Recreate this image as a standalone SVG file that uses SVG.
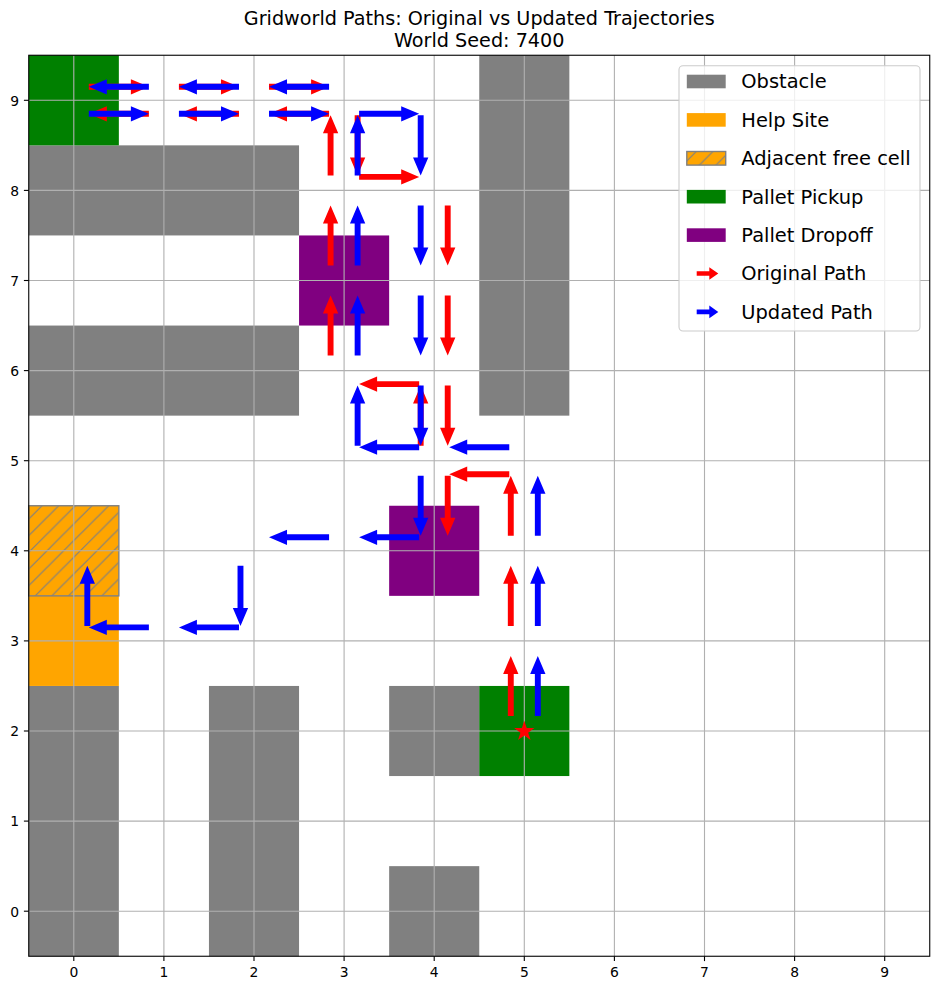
<svg xmlns="http://www.w3.org/2000/svg" xmlns:xlink="http://www.w3.org/1999/xlink" width="939" height="990" viewBox="0 0 939 990">
<style>
text{font-family:"DejaVu Sans","Liberation Sans",sans-serif;fill:#000}
.title{font-size:19.2px;text-anchor:middle}
.tick{font-size:13.9px}
.xt{text-anchor:middle}
.yt{text-anchor:end}
.leg{font-size:19.44px}
.obs{fill:#808080}
.pick{fill:#008000}
.drop{fill:#800080}
.help{fill:#ffa500}
.grid line{stroke:#b0b0b0;stroke-width:1.1}
.tk line{stroke:#000;stroke-width:1.1}
.r{fill:#ff0000}
.b{fill:#0000ff}
</style>
<defs>
<path id="arr" d="M0,-2.95 L42.07,-2.95 L42.07,-7.65 L60.07,0 L42.07,7.65 L42.07,2.95 L0,2.95 Z"/>
<path id="larr" d="M0,-2.3 L12.6,-2.3 L12.6,-6.3 L21.6,0 L12.6,6.3 L12.6,2.3 L0,2.3 Z"/>
<pattern id="hatch" patternUnits="userSpaceOnUse" x="14.4" y="0" width="16.667" height="16.667">
<rect width="16.667" height="16.667" fill="#ffa500"/>
<path d="M0,16.667 L16.667,0 M-4,4 L4,-4 M12.667,20.667 L20.667,12.667" stroke="#808080" stroke-width="1.2"/>
</pattern>
</defs>
<rect width="939" height="990" fill="#fff"/>
<g id="title">
<text class="title" x="479.25" y="25">Gridworld Paths: Original vs Updated Trajectories</text>
<text class="title" x="479.25" y="47">World Seed: 7400</text>
</g>
<g id="cells">
<rect class="obs" x="28.75" y="145.35" width="270.3" height="90.1"/>
<rect class="obs" x="28.75" y="325.55" width="270.3" height="90.1"/>
<rect class="obs" x="479.25" y="55.25" width="90.1" height="360.4"/>
<rect class="obs" x="28.75" y="685.95" width="90.1" height="270.3"/>
<rect class="obs" x="208.95" y="685.95" width="90.1" height="270.3"/>
<rect class="obs" x="389.15" y="685.95" width="90.1" height="90.1"/>
<rect class="obs" x="389.15" y="866.15" width="90.1" height="90.1"/>
<rect class="pick" x="28.75" y="55.25" width="90.1" height="90.1"/>
<rect class="pick" x="479.25" y="685.95" width="90.1" height="90.1"/>
<rect class="drop" x="299.05" y="235.45" width="90.1" height="90.1"/>
<rect class="drop" x="389.15" y="505.75" width="90.1" height="90.1"/>
<rect class="help" x="28.75" y="595.85" width="90.1" height="90.1"/>
<rect x="28.75" y="505.75" width="90.1" height="90.1" fill="url(#hatch)" stroke="#808080" stroke-width="1.4"/>
</g>
<g id="grid" class="grid">
<line x1="73.8" y1="55.25" x2="73.8" y2="956.25"/>
<line x1="163.9" y1="55.25" x2="163.9" y2="956.25"/>
<line x1="254" y1="55.25" x2="254" y2="956.25"/>
<line x1="344.1" y1="55.25" x2="344.1" y2="956.25"/>
<line x1="434.2" y1="55.25" x2="434.2" y2="956.25"/>
<line x1="524.3" y1="55.25" x2="524.3" y2="956.25"/>
<line x1="614.4" y1="55.25" x2="614.4" y2="956.25"/>
<line x1="704.5" y1="55.25" x2="704.5" y2="956.25"/>
<line x1="794.6" y1="55.25" x2="794.6" y2="956.25"/>
<line x1="884.7" y1="55.25" x2="884.7" y2="956.25"/>
<line x1="28.75" y1="911.2" x2="929.75" y2="911.2"/>
<line x1="28.75" y1="821.1" x2="929.75" y2="821.1"/>
<line x1="28.75" y1="731" x2="929.75" y2="731"/>
<line x1="28.75" y1="640.9" x2="929.75" y2="640.9"/>
<line x1="28.75" y1="550.8" x2="929.75" y2="550.8"/>
<line x1="28.75" y1="460.7" x2="929.75" y2="460.7"/>
<line x1="28.75" y1="370.6" x2="929.75" y2="370.6"/>
<line x1="28.75" y1="280.5" x2="929.75" y2="280.5"/>
<line x1="28.75" y1="190.4" x2="929.75" y2="190.4"/>
<line x1="28.75" y1="100.3" x2="929.75" y2="100.3"/>
</g>
<g id="connectors">
<g id="original-path" class="r">
<use xlink:href="#arr" transform="translate(510.785,715.983) rotate(-90)"/>
<use xlink:href="#arr" transform="translate(510.785,625.883) rotate(-90)"/>
<use xlink:href="#arr" transform="translate(510.785,535.783) rotate(-90)"/>
<use xlink:href="#arr" transform="translate(509.283,474.215) rotate(180)"/>
<use xlink:href="#arr" transform="translate(420.685,445.683) rotate(-90)"/>
<use xlink:href="#arr" transform="translate(419.183,384.115) rotate(180)"/>
<use xlink:href="#arr" transform="translate(330.585,355.583) rotate(-90)"/>
<use xlink:href="#arr" transform="translate(330.585,265.483) rotate(-90)"/>
<use xlink:href="#arr" transform="translate(330.585,175.383) rotate(-90)"/>
<use xlink:href="#arr" transform="translate(329.083,113.815) rotate(180)"/>
<use xlink:href="#arr" transform="translate(238.983,113.815) rotate(180)"/>
<use xlink:href="#arr" transform="translate(148.883,113.815) rotate(180)"/>
<use xlink:href="#arr" transform="translate(88.817,86.785)"/>
<use xlink:href="#arr" transform="translate(178.917,86.785)"/>
<use xlink:href="#arr" transform="translate(269.017,86.785)"/>
<use xlink:href="#arr" transform="translate(357.615,115.317) rotate(90)"/>
<use xlink:href="#arr" transform="translate(359.117,176.885)"/>
<use xlink:href="#arr" transform="translate(447.715,205.417) rotate(90)"/>
<use xlink:href="#arr" transform="translate(447.715,295.517) rotate(90)"/>
<use xlink:href="#arr" transform="translate(447.715,385.617) rotate(90)"/>
<use xlink:href="#arr" transform="translate(447.715,475.717) rotate(90)"/>
</g>
<g id="updated-path" class="b">
<use xlink:href="#arr" transform="translate(537.815,715.983) rotate(-90)"/>
<use xlink:href="#arr" transform="translate(537.815,625.883) rotate(-90)"/>
<use xlink:href="#arr" transform="translate(537.815,535.783) rotate(-90)"/>
<use xlink:href="#arr" transform="translate(509.283,447.185) rotate(180)"/>
<use xlink:href="#arr" transform="translate(419.183,447.185) rotate(180)"/>
<use xlink:href="#arr" transform="translate(357.615,445.683) rotate(-90)"/>
<use xlink:href="#arr" transform="translate(357.615,355.583) rotate(-90)"/>
<use xlink:href="#arr" transform="translate(357.615,265.483) rotate(-90)"/>
<use xlink:href="#arr" transform="translate(357.615,175.383) rotate(-90)"/>
<use xlink:href="#arr" transform="translate(329.083,86.785) rotate(180)"/>
<use xlink:href="#arr" transform="translate(238.983,86.785) rotate(180)"/>
<use xlink:href="#arr" transform="translate(148.883,86.785) rotate(180)"/>
<use xlink:href="#arr" transform="translate(88.817,113.815)"/>
<use xlink:href="#arr" transform="translate(178.917,113.815)"/>
<use xlink:href="#arr" transform="translate(269.017,113.815)"/>
<use xlink:href="#arr" transform="translate(359.117,113.815)"/>
<use xlink:href="#arr" transform="translate(420.685,115.317) rotate(90)"/>
<use xlink:href="#arr" transform="translate(420.685,205.417) rotate(90)"/>
<use xlink:href="#arr" transform="translate(420.685,295.517) rotate(90)"/>
<use xlink:href="#arr" transform="translate(420.685,385.617) rotate(90)"/>
<use xlink:href="#arr" transform="translate(420.685,475.717) rotate(90)"/>
<use xlink:href="#arr" transform="translate(419.183,537.285) rotate(180)"/>
<use xlink:href="#arr" transform="translate(329.083,537.285) rotate(180)"/>
<use xlink:href="#arr" transform="translate(240.485,565.817) rotate(90)"/>
<use xlink:href="#arr" transform="translate(238.983,627.385) rotate(180)"/>
<use xlink:href="#arr" transform="translate(148.883,627.385) rotate(180)"/>
<use xlink:href="#arr" transform="translate(87.315,625.883) rotate(-90)"/>
</g>
</g>
<g id="start">
<path class="r" transform="translate(524.3,731.4)" d="M0,-10.67 L2.396,-3.298 L10.148,-3.297 L3.877,1.26 L6.272,8.632 L0,4.076 L-6.272,8.632 L-3.877,1.26 L-10.148,-3.297 L-2.396,-3.298 Z"/>
</g>
<g id="axes">
<rect x="28.75" y="55.25" width="901" height="901" fill="none" stroke="#000" stroke-width="1.1"/>
<g class="tk">
<line x1="73.8" y1="956.25" x2="73.8" y2="961.1"/>
<line x1="163.9" y1="956.25" x2="163.9" y2="961.1"/>
<line x1="254" y1="956.25" x2="254" y2="961.1"/>
<line x1="344.1" y1="956.25" x2="344.1" y2="961.1"/>
<line x1="434.2" y1="956.25" x2="434.2" y2="961.1"/>
<line x1="524.3" y1="956.25" x2="524.3" y2="961.1"/>
<line x1="614.4" y1="956.25" x2="614.4" y2="961.1"/>
<line x1="704.5" y1="956.25" x2="704.5" y2="961.1"/>
<line x1="794.6" y1="956.25" x2="794.6" y2="961.1"/>
<line x1="884.7" y1="956.25" x2="884.7" y2="961.1"/>
<line x1="23.9" y1="911.2" x2="28.75" y2="911.2"/>
<line x1="23.9" y1="821.1" x2="28.75" y2="821.1"/>
<line x1="23.9" y1="731" x2="28.75" y2="731"/>
<line x1="23.9" y1="640.9" x2="28.75" y2="640.9"/>
<line x1="23.9" y1="550.8" x2="28.75" y2="550.8"/>
<line x1="23.9" y1="460.7" x2="28.75" y2="460.7"/>
<line x1="23.9" y1="370.6" x2="28.75" y2="370.6"/>
<line x1="23.9" y1="280.5" x2="28.75" y2="280.5"/>
<line x1="23.9" y1="190.4" x2="28.75" y2="190.4"/>
<line x1="23.9" y1="100.3" x2="28.75" y2="100.3"/>
</g>
<g class="tick xt">
<text x="73.8" y="977">0</text>
<text x="163.9" y="977">1</text>
<text x="254" y="977">2</text>
<text x="344.1" y="977">3</text>
<text x="434.2" y="977">4</text>
<text x="524.3" y="977">5</text>
<text x="614.4" y="977">6</text>
<text x="704.5" y="977">7</text>
<text x="794.6" y="977">8</text>
<text x="884.7" y="977">9</text>
</g>
<g class="tick yt">
<text x="19.1" y="916.5">0</text>
<text x="19.1" y="826.4">1</text>
<text x="19.1" y="736.3">2</text>
<text x="19.1" y="646.2">3</text>
<text x="19.1" y="556.1">4</text>
<text x="19.1" y="466">5</text>
<text x="19.1" y="375.9">6</text>
<text x="19.1" y="285.8">7</text>
<text x="19.1" y="195.7">8</text>
<text x="19.1" y="105.6">9</text>
</g>
</g>
<g id="legend">
<rect x="679" y="65.7" width="241" height="265.3" rx="4" fill="#fff" fill-opacity="0.8" stroke="#cccccc" stroke-width="1.1"/>
<rect class="obs" x="686.8" y="74.7" width="38.9" height="13.6"/>
<rect class="help" x="686.8" y="113.1" width="38.9" height="13.6"/>
<rect x="686.8" y="151.5" width="38.9" height="13.6" fill="url(#hatch)" stroke="#808080" stroke-width="1.4"/>
<rect class="pick" x="686.8" y="189.9" width="38.9" height="13.6"/>
<rect class="drop" x="686.8" y="228.3" width="38.9" height="13.6"/>
<use class="r" xlink:href="#larr" transform="translate(696.7,273.5)"/>
<use class="b" xlink:href="#larr" transform="translate(696.7,311.9)"/>
<text class="leg" x="741.3" y="88.3">Obstacle</text>
<text class="leg" x="741.3" y="126.7">Help Site</text>
<text class="leg" x="741.3" y="165.1">Adjacent free cell</text>
<text class="leg" x="741.3" y="203.5">Pallet Pickup</text>
<text class="leg" x="741.3" y="241.9">Pallet Dropoff</text>
<text class="leg" x="741.3" y="280.3">Original Path</text>
<text class="leg" x="741.3" y="318.7">Updated Path</text>
</g>
</svg>
